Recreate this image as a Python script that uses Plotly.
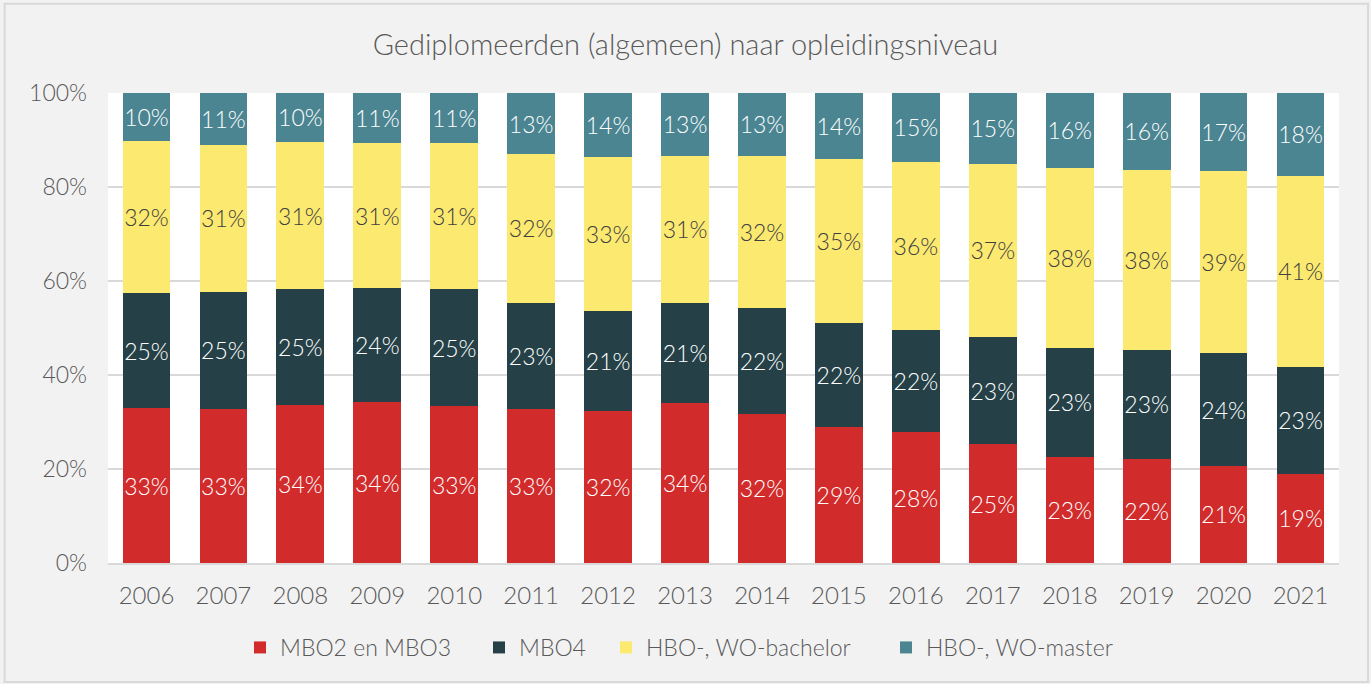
import plotly.graph_objects as go

years = ["2006", "2007", "2008", "2009", "2010", "2011", "2012", "2013",
         "2014", "2015", "2016", "2017", "2018", "2019", "2020", "2021"]
mbo23 = [32.9, 32.8, 33.6, 34.2, 33.4, 32.8, 32.4, 34.0, 31.8, 28.9, 27.8, 25.3, 22.6, 22.1, 20.7, 19.0]
mbo4 = [24.6, 24.9, 24.6, 24.3, 24.8, 22.6, 21.2, 21.4, 22.4, 22.2, 21.7, 22.8, 23.1, 23.3, 23.9, 22.7]
bachelor = [32.2, 31.2, 31.4, 30.8, 31.1, 31.6, 32.8, 31.3, 32.4, 34.9, 35.9, 36.8, 38.4, 38.3, 38.7, 40.7]
master = [10.3, 11.1, 10.4, 10.7, 10.7, 13.0, 13.6, 13.3, 13.4, 14.0, 14.6, 15.1, 15.9, 16.3, 16.7, 17.6]
y_ticks = [0, 20, 40, 60, 80, 100]
y_ticklabels = ["0%", "20%", "40%", "60%", "80%", "100%"]

series = [
    ("MBO2 en MBO3", mbo23, "#d22b2b", "#ffffff"),
    ("MBO4", mbo4, "#254147", "#ffffff"),
    ("HBO-, WO-bachelor", bachelor, "#fce970", "#404040"),
    ("HBO-, WO-master", master, "#4b8592", "#ffffff"),
]

FONT = "Lato"
W = 300
GREY = "#595959"
PL, PR = 108, 1339           # plot area pixel bounds (for legend placement)
legend_text_px = [280, 519, 646, 926]
legend_keys = ["legend", "legend2", "legend3", "legend4"]

fig = go.Figure()
for (name, vals, color, tcolor), lk in zip(series, legend_keys):
    fig.add_trace(go.Bar(
        x=years, y=vals, name=name, legend=lk,
        marker=dict(color=color, line=dict(width=0)),
        text=[f"{v:.0f}%" for v in vals],
        textposition="inside", insidetextanchor="middle", textangle=0,
        constraintext="none",
        textfont=dict(family=FONT, size=23, color=tcolor, weight=W),
    ))

legend_style = dict(orientation="h", xanchor="left", y=-0.134, yanchor="top",
                    font=dict(family=FONT, size=23, color=GREY, weight=W),
                    itemwidth=30, bgcolor="rgba(0,0,0,0)", borderwidth=0)
legends = {}
for lk, tx in zip(legend_keys, legend_text_px):
    legends[lk] = dict(legend_style, x=(tx - 40 - PL) / (PR - PL))

fig.update_layout(
    barmode="stack",
    bargap=0.38,
    width=1371, height=684,
    margin=dict(l=108, r=32, t=93, b=121),
    paper_bgcolor="#f2f2f2",
    plot_bgcolor="#ffffff",
    font=dict(family=FONT, color=GREY, weight=W),
    title=dict(text="Gediplomeerden (algemeen) naar opleidingsniveau",
               x=0.5, xanchor="center", y=0.935, yanchor="middle",
               font=dict(family=FONT, size=29, color=GREY, weight=W)),
    showlegend=True,
    **legends,
)
fig.update_yaxes(range=[0, 100], tickmode="array", tickvals=y_ticks, ticktext=y_ticklabels,
                 showgrid=True, gridcolor="#d9d9d9", gridwidth=1.5,
                 zeroline=False, ticks="", ticklabelstandoff=20,
                 tickfont=dict(family=FONT, size=23, color=GREY, weight=W))
fig.update_xaxes(showgrid=False, showline=True, linecolor="#d9d9d9", linewidth=1.5,
                 tickfont=dict(family=FONT, size=24, color=GREY, weight=W),
                 ticklabelstandoff=10)

fig.add_shape(type="rect", xref="paper", yref="paper",
              x0=-0.084, x1=1.0236, y0=-0.253, y1=1.19,
              line=dict(color="#d9d9d9", width=2), fillcolor="rgba(0,0,0,0)",
              layer="below")

fig.write_html("out.html", config={"displayModeBar": False},
               post_script="document.body.style.margin='0';")
